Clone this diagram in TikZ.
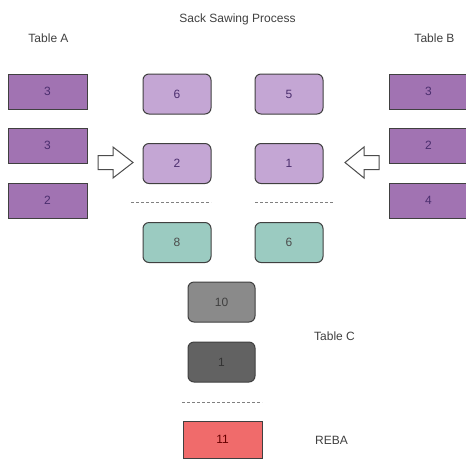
\documentclass[tikz,border=0pt]{standalone}
\usepackage{fontspec}
\setmainfont{Liberation Sans}
\begin{document}
\begin{tikzpicture}[x=1pt,y=-1pt,
  lbl/.style={font=\fontsize{12}{14}\selectfont, text=black!75},
  base/.style={draw=black!75, line width=1pt, inner sep=0pt, font=\fontsize{12}{14}\selectfont},
  tbl/.style={base, fill=tblpurple, text=purpletext, minimum width=79pt, minimum height=35pt},
  lp/.style={base, rounded corners=6pt, fill=lightpurple, text=purpletext, minimum width=68pt, minimum height=40pt},
  tl/.style={base, rounded corners=6pt, fill=tealbox, text=black!70, minimum width=68pt, minimum height=40pt},
  gr/.style={base, rounded corners=6pt, fill=graybox, text=black!75, minimum width=67pt, minimum height=40pt},
  dg/.style={base, rounded corners=6pt, fill=darkgraybox, text=black!80, minimum width=67pt, minimum height=40pt},
  rb/.style={base, fill=redbox, text=red!40!black, minimum width=79pt, minimum height=37pt},
  sep/.style={draw=black!50, line width=0.9pt, dash pattern=on 3pt off 2pt},
  barrow/.style={draw=black!70, line width=1pt, fill=white, line join=miter}
]
\definecolor{tblpurple}{HTML}{A173B2}
\definecolor{lightpurple}{HTML}{C4A6D4}
\definecolor{purpletext}{HTML}{4B2E6E}
\definecolor{tealbox}{HTML}{9BCBC1}
\definecolor{graybox}{HTML}{8A8A8A}
\definecolor{darkgraybox}{HTML}{626262}
\definecolor{redbox}{HTML}{F06B6B}
\useasboundingbox[fill=white] (0,0) rectangle (466,459);

% labels
\node[lbl] (title) at (237.5,19) {Sack Sawing Process};
\node[lbl] (ta) at (48.5,38) {Table A};
\node[lbl] (tb) at (434.5,38) {Table B};
\node[lbl] (tc) at (334.5,336) {Table C};
\node[lbl] (reba) at (331.5,440) {REBA};

% Table A
\node[tbl] (a1) at (47.5,91.5) {3};
\node[tbl] (a2) at (47.5,145.5) {3};
\node[tbl] (a3) at (47.5,200.5) {2};
% Table B
\node[tbl] (b1) at (428.5,91.5) {3};
\node[tbl] (b2) at (428.5,145.5) {2};
\node[tbl] (b3) at (428.5,200.5) {4};

% middle
\node[lp] (m6) at (177,94) {6};
\node[lp] (m5) at (289,94) {5};
\node[lp] (m2) at (177,163.5) {2};
\node[lp] (m1) at (289,163.5) {1};
\node[tl] (t8) at (177,242.5) {8};
\node[tl] (t6) at (289,242.5) {6};
\node[gr] (c10) at (221.5,302) {10};
\node[dg] (c1) at (221.5,362) {1};
\node[rb] (r11) at (222.5,439.5) {11};

% dashed separators
\coordinate (d1a) at (131,202); \coordinate (d1b) at (211,202);
\coordinate (d2a) at (255,202); \coordinate (d2b) at (333,202);
\coordinate (d3a) at (182,402); \coordinate (d3b) at (262,402);
\draw[sep] (d1a) -- (d1b);
\draw[sep] (d2a) -- (d2b);
\draw[sep] (d3a) -- (d3b);

% block arrows
\draw[barrow] (98,155.5) -- (113,155.5) -- (113,147) -- (133,162.5) -- (113,178) -- (113,169.5) -- (98,169.5) -- cycle;
\draw[barrow] (379,155.5) -- (364,155.5) -- (364,147) -- (345,162.5) -- (364,178) -- (364,169.5) -- (379,169.5) -- cycle;
\end{tikzpicture}
\end{document}
